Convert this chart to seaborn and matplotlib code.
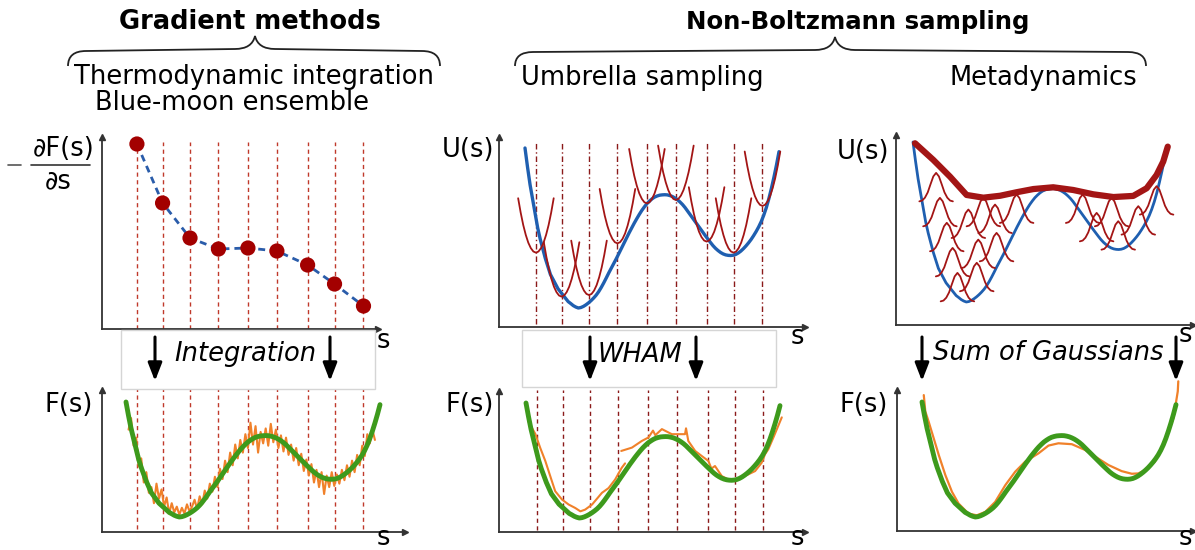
import numpy as np
import pandas as pd
import matplotlib
matplotlib.use("Agg")
import matplotlib.pyplot as plt
import seaborn as sns
from matplotlib.path import Path
from matplotlib.patches import PathPatch, Rectangle

# ---------------- data ----------------
# double-well free-energy profile F(s), s = 0 ... 10 (step 0.1)
S_PROFILE = np.round(np.linspace(0.0, 10.0, 101), 2)
F_PROFILE = [10.0, 8.8, 7.7, 6.8, 5.9, 5.0, 4.3, 3.7, 3.1, 2.6,
             2.1, 1.8, 1.5, 1.2, 1.0, 0.8, 0.6, 0.4, 0.28, 0.15,
             0.06, 0.0, 0.03, 0.1, 0.2, 0.32, 0.46, 0.62, 0.8, 1.02,
             1.28, 1.57, 1.88, 2.2, 2.5, 2.8, 3.1, 3.42, 3.74, 4.06,
             4.38, 4.7, 5.0, 5.3, 5.58, 5.85, 6.1, 6.32, 6.52, 6.68,
             6.82, 6.93, 7.0, 7.05, 7.07, 7.08, 7.07, 7.03, 6.97, 6.88,
             6.77, 6.63, 6.47, 6.28, 6.06, 5.84, 5.62, 5.4, 5.18, 4.96,
             4.74, 4.52, 4.31, 4.1, 3.9, 3.73, 3.59, 3.47, 3.38, 3.32,
             3.29, 3.28, 3.3, 3.35, 3.44, 3.56, 3.71, 3.88, 4.07, 4.28,
             4.52, 4.78, 5.07, 5.4, 5.8, 6.27, 6.83, 7.47, 8.17, 8.93,
             9.77]

# sampling windows (umbrella / thermodynamic integration points)
WINDOWS = [0.43, 1.44, 2.52, 3.64, 4.8, 5.94, 7.15, 8.21, 9.35]
MEAN_FORCE = [9.25, 6.3, 4.55, 4.0, 4.05, 3.9, 3.2, 2.25, 1.15]

# thermodynamic-integration reconstruction (noisy), s = 0.1 ... 9.8
S_TI = np.round(np.linspace(0.1, 9.8, 98), 2)
F_TI = [7.6, 8.6, 6.2, 6.9, 4.4, 5.1, 3.0, 3.9, 2.1, 2.6,
        1.2, 2.9, 1.6, 2.4, 0.9, 1.7, 0.3, 1.2, 0.4, 0.9,
        0.2, 0.8, 0.3, 1.1, 0.5, 0.9, 1.5, 0.7, 1.8, 1.1,
        2.3, 1.6, 2.9, 2.2, 3.5, 2.6, 4.2, 3.3, 4.9, 3.9,
        5.6, 4.5, 6.3, 5.1, 6.7, 5.6, 7.2, 6.0, 8.2, 6.3,
        7.9, 5.6, 7.4, 6.4, 7.7, 6.2, 8.1, 6.5, 7.6, 6.0,
        7.1, 5.7, 6.9, 5.4, 6.3, 4.9, 6.0, 4.5, 5.5, 4.0,
        5.0, 3.6, 4.6, 3.0, 4.1, 2.6, 3.9, 2.0, 3.6, 2.6,
        3.9, 2.7, 3.7, 2.9, 4.1, 3.2, 4.5, 3.5, 4.9, 3.9,
        5.4, 4.5, 6.2, 5.3, 7.2, 6.4, 7.6, 6.7]

# umbrella sampling: vertex heights of the bias parabolas at each window
UMB_VERTEX = [3.46, 0.71, 0.81, 4.04, 6.54, 6.75, 4.15, 3.46, 6.38]
PARAB_DS = [-0.7, -0.6, -0.5, -0.4, -0.3, -0.2, -0.1, 0.0, 0.1, 0.2, 0.3, 0.4, 0.5, 0.6, 0.7]
PARAB_DF = [3.4, 2.5, 1.73, 1.11, 0.62, 0.28, 0.07, 0.0, 0.07, 0.28, 0.62, 1.11, 1.73, 2.5, 3.4]

# WHAM reconstruction (pieces)
S_WHAM_A = [0.08, 0.37, 0.56, 0.76, 0.89, 1.02, 1.15, 1.42, 1.68, 1.94, 2.14, 2.33, 2.6, 2.99, 3.25, 3.51, 3.77, 3.9]
F_WHAM_A = [8.45, 7.3, 6.1, 4.96, 4.08, 3.2, 2.33, 1.6, 1.17, 0.87, 0.58, 0.73, 1.17, 2.19, 2.6, 3.35, 4.37, 4.75]
S_WHAM_B = [3.75, 4.17, 4.56, 4.82, 5.0, 5.09, 5.35, 5.74, 6.26, 6.3, 6.39, 6.66, 6.92, 7.18, 7.3, 7.44,
            7.71, 7.97, 8.23, 8.49, 8.75, 9.02, 9.28, 9.41, 9.54, 9.74, 10.07]
F_WHAM_B = [5.83, 6.12, 6.7, 7.0, 7.6, 7.2, 7.73, 7.29, 7.29, 7.8, 6.7, 5.83, 5.39, 4.96, 4.3, 4.52,
            3.64, 3.35, 3.35, 3.56, 3.79, 4.08, 4.81, 5.54, 5.98, 7.0, 8.75]

# metadynamics: bias-filled profile, deposited Gaussians, reconstruction
S_META_TOP = [0.08, 0.80, 1.46, 2.11, 2.77, 3.43, 4.08, 4.74, 5.52, 6.31, 7.10, 7.89, 8.67, 9.20, 9.59, 9.85, 10.03]
F_META_TOP = [9.92, 8.88, 7.83, 6.69, 6.52, 6.64, 6.86, 7.06, 7.17, 7.0, 6.73, 6.56, 6.63, 7.11, 7.94, 8.77, 9.71]
HILL_S = [0.91, 1.06, 1.33, 1.56, 1.75, 2.18, 2.57, 2.51, 2.77, 3.23, 3.29, 4.08,
          6.68, 7.23, 7.82, 8.08, 8.87, 9.59]
HILL_BASE = [6.27, 4.71, 3.15, 1.58, 0.02, 3.98, 2.1, 0.65, 4.71, 4.29, 2.52, 4.92,
             4.92, 3.77, 4.71, 3.25, 4.19, 5.44]
GAUSS_DS = [-0.66, -0.55, -0.44, -0.33, -0.22, -0.11, 0.0, 0.11, 0.22, 0.33, 0.44, 0.55, 0.66]
GAUSS_H = [0.02, 0.07, 0.25, 0.58, 1.09, 1.58, 1.8, 1.58, 1.09, 0.58, 0.25, 0.07, 0.02]
S_META = [0.07, 0.13, 0.26, 0.46, 0.66, 0.92, 1.18, 1.44, 1.83, 2.16, 2.49, 2.88, 3.28, 3.67, 4.06, 4.59,
          4.98, 5.37, 5.9, 6.42, 6.82, 7.34, 7.86, 8.26, 8.52, 8.78, 9.17, 9.44, 9.7, 9.9, 10.07, 10.09]
F_META = [10.6, 9.18, 8.3, 6.85, 5.39, 3.64, 2.19, 1.17, 0.29, 0.15, 0.44, 1.31, 2.77, 3.94, 4.81, 5.54,
          6.21, 6.41, 6.33, 5.83, 5.25, 4.52, 3.99, 3.76, 3.79, 4.08, 4.81, 6.12, 7.43, 8.6, 10.93, 11.8]

# ---------------- style ----------------
sns.set_theme(style="white")
plt.rcParams['font.family'] = ['DejaVu Sans']
plt.rcParams['text.color'] = 'black'

W, H = 1195, 550
fig = plt.figure(figsize=(W / 100, H / 100), dpi=100)
fig.patch.set_facecolor("white")

C_DOT = "#a30000"
C_BLUE_D = "#2a5caa"
C_VL1 = "#c0392b"
C_VL2 = "#8b1a1a"
C_GREEN = "#3d9a1c"
C_ORANGE = "#f0812a"
C_BLUE = "#1f5fb0"
C_RED = "#a31515"
FS = 18.5


def panel(ox, oy, rx, ty, s0, sx, f0, sy):
    ax = fig.add_axes([ox / W, 1 - oy / H, (rx - ox) / W, (oy - ty) / H])
    ax.set_xlim((ox - s0) / sx, (rx - s0) / sx)
    ax.set_ylim((f0 - oy) / sy, (f0 - ty) / sy)
    ax.patch.set_alpha(0)
    sns.despine(ax=ax)
    for sp in ("left", "bottom"):
        ax.spines[sp].set_color("#333333")
        ax.spines[sp].set_linewidth(1.3)
    ax.set_xticks([])
    ax.set_yticks([])
    ax.plot(0, 1, marker="^", color="#333333", ms=4, transform=ax.transAxes, clip_on=False)
    ax.plot(1, 0, marker=">", color="#333333", ms=4, transform=ax.transAxes, clip_on=False)
    return ax


def line(ax, x, y, **kw):
    sns.lineplot(x=list(x), y=list(y), ax=ax, sort=False, estimator=None, legend=False, **kw)


ax_tl = panel(102, 329, 378, 137, 126, 25.4, 329, 20.0)
ax_bl = panel(102, 532, 405, 390, 126, 25.4, 517, 11.5)
ax_tm = panel(499, 327, 805, 137, 525, 25.4, 308, 16.0)
ax_bm = panel(499, 532, 805, 391, 526, 25.4, 518, 11.5)
ax_tr = panel(896, 325, 1193, 135, 913, 25.4, 302, 16.0)
ax_br = panel(897, 531, 1193, 390, 922, 25.4, 517, 11.5)

# --- gradient methods ---
ax_tl.vlines(WINDOWS, 0, 9.35, colors=C_VL1, linestyles=(0, (3, 2.5)), lw=1.0)
line(ax_tl, WINDOWS, MEAN_FORCE, color=C_BLUE_D, lw=2.0, linestyle=(0, (2.5, 1.8)))
sns.scatterplot(x=WINDOWS, y=MEAN_FORCE, ax=ax_tl, color=C_DOT, s=120, edgecolor="none",
                zorder=5, clip_on=False, legend=False)

ax_bl.vlines(WINDOWS, -1.0, 11.1, colors=C_VL1, linestyles=(0, (3, 2.5)), lw=1.0, clip_on=False)
line(ax_bl, S_TI, F_TI, color=C_ORANGE, lw=1.5, zorder=3)
line(ax_bl, S_PROFILE, F_PROFILE, color=C_GREEN, lw=3.5, zorder=4)

# --- umbrella sampling ---
ax_tm.vlines(WINDOWS, -1.0, 10.4, colors=C_VL2, linestyles=(0, (4, 2, 1, 2)), lw=1.0)
line(ax_tm, S_PROFILE, F_PROFILE, color=C_BLUE, lw=2.4, zorder=3)
for w, v in zip(WINDOWS, UMB_VERTEX):
    line(ax_tm, [w + d for d in PARAB_DS], [v + f for f in PARAB_DF], color=C_RED, lw=1.3, zorder=4)

ax_bm.vlines(WINDOWS, -1.0, 11.1, colors=C_VL2, linestyles=(0, (3, 2.5)), lw=1.0, clip_on=False)
line(ax_bm, S_WHAM_A, F_WHAM_A, color=C_ORANGE, lw=1.5, zorder=3)
line(ax_bm, S_WHAM_B, F_WHAM_B, color=C_ORANGE, lw=1.5, zorder=3)
line(ax_bm, S_PROFILE, F_PROFILE, color=C_GREEN, lw=3.5, zorder=4)

# --- metadynamics ---
line(ax_tr, S_PROFILE, F_PROFILE, color=C_BLUE, lw=2.0, zorder=3)
for hs, hb in zip(HILL_S, HILL_BASE):
    line(ax_tr, [hs + d for d in GAUSS_DS], [hb + g for g in GAUSS_H], color=C_RED, lw=1.3, zorder=4)
line(ax_tr, S_META_TOP, F_META_TOP, color=C_RED, lw=4.5, zorder=5)

line(ax_br, S_META, F_META, color=C_ORANGE, lw=1.6, zorder=3)
line(ax_br, S_PROFILE, F_PROFILE, color=C_GREEN, lw=3.5, zorder=4)
for a in (ax_br, ax_bm, ax_bl):
    for l in a.get_lines():
        l.set_clip_on(False)

# ---------------- annotation layer (pixel coordinates) ----------------
ov = fig.add_axes([0, 0, 1, 1], zorder=10)
ov.set_xlim(0, W)
ov.set_ylim(H, 0)
ov.axis("off")
ov.patch.set_alpha(0)


def brace(xl, xr, xm, y_end, y_line, y_cusp):
    M, C3, L = Path.MOVETO, Path.CURVE3, Path.LINETO
    verts = [(xl, y_end), (xl, y_line), (xl + 18, y_line), (xm - 20, y_line - 2),
             (xm - 3, y_line - 2), (xm, y_cusp), (xm + 3, y_line - 2), (xm + 20, y_line - 2),
             (xr - 18, y_line), (xr, y_line), (xr, y_end)]
    codes = [M, C3, C3, L, C3, C3, C3, C3, L, C3, C3]
    ov.add_patch(PathPatch(Path(verts, codes), fc="none", ec="#222222", lw=1.3))


brace(68, 440, 255, 66, 51, 36)
brace(515, 1146, 835, 66, 52, 37)

ov.text(250, 22, "Gradient methods", ha="center", va="center", fontsize=FS, fontweight="bold")
ov.text(858, 22, "Non-Boltzmann sampling", ha="center", va="center", fontsize=17.6, fontweight="bold")
ov.text(254, 77, "Thermodynamic integration", ha="center", va="center", fontsize=FS)
ov.text(232, 103, "Blue-moon ensemble", ha="center", va="center", fontsize=FS)
ov.text(642, 78, "Umbrella sampling", ha="center", va="center", fontsize=FS)
ov.text(1043, 78, "Metadynamics", ha="center", va="center", fontsize=FS)

# axis labels
ov.text(64, 149, "∂F(s)", ha="center", va="center", fontsize=FS)
ov.text(58, 181, "∂s", ha="center", va="center", fontsize=FS)
ov.plot([31, 90], [165, 165], color="#333333", lw=1.2)
ov.plot([8, 21], [165, 165], color="#555555", lw=1.2)
for x, y in [(468, 150), (863, 152)]:
    ov.text(x, y, "U(s)", ha="center", va="center", fontsize=FS)
for x, y in [(69, 405), (470, 405), (864, 405)]:
    ov.text(x, y, "F(s)", ha="center", va="center", fontsize=FS)
for x, y in [(383, 341), (797, 337), (1185, 335), (383, 538), (797, 538), (1185, 538)]:
    ov.text(x, y, "s", ha="center", va="center", fontsize=FS)

# method boxes + arrows
ov.add_patch(Rectangle((121, 330), 254, 59, fc="white", ec="#d5d5d5", lw=1.0, zorder=0))
ov.add_patch(Rectangle((522, 330), 254, 57, fc="white", ec="#d5d5d5", lw=1.0, zorder=0))
ov.text(245, 354, "Integration", ha="center", va="center", fontsize=FS, style="italic")
ov.text(640, 355, "WHAM", ha="center", va="center", fontsize=FS, style="italic")
ov.text(1048, 353, "Sum of Gaussians", ha="center", va="center", fontsize=FS, style="italic")
for x in [155, 330, 590, 696, 922, 1176]:
    ov.annotate("", xy=(x, 381), xytext=(x, 337),
                arrowprops=dict(arrowstyle="-|>,head_length=0.9,head_width=0.35",
                                lw=2.2, color="black", shrinkA=0, shrinkB=0))

fig.savefig("out.png", dpi=100, facecolor="white")
